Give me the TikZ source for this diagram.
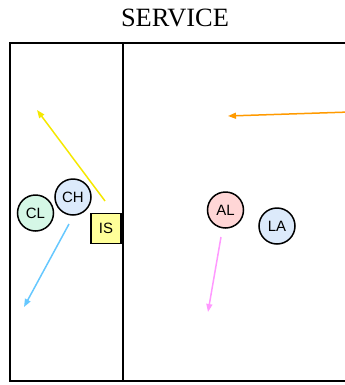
\documentclass[tikz,border=0pt]{standalone}
\usepackage{fontspec}
\setmainfont{Liberation Serif}
\newfontfamily\nodefont{Liberation Sans}
\usetikzlibrary{arrows.meta}
\definecolor{clfill}{HTML}{D5F7E6}
\definecolor{bluefill}{HTML}{DCEAFB}
\definecolor{alfill}{HTML}{FFD6D6}
\definecolor{isfill}{HTML}{FFFF99}
\definecolor{yarrow}{HTML}{F5E800}
\definecolor{oarrow}{HTML}{FF9A00}
\definecolor{barrow}{HTML}{66C8FF}
\definecolor{parrow}{HTML}{FF99FF}
\begin{document}
\begin{tikzpicture}[x=1bp,y=-1bp,
  player/.style={circle,draw=black,line width=1.5bp,minimum size=36bp,inner sep=0pt,font=\nodefont\fontsize{15}{15}\selectfont},
  setter/.style={rectangle,draw=black,line width=1.5bp,fill=isfill,minimum size=30bp,inner sep=0pt,font=\nodefont\fontsize{15}{15}\selectfont},
  move/.style={line width=1.5bp,-{Triangle[length=8bp,width=6bp]}}]
\useasboundingbox (0,0) rectangle (345,385);
\clip (0,0) rectangle (345,385);
% title
\node[font=\fontsize{26.5}{26.5}\selectfont] (title) at (175,18) {SERVICE};
% court
\draw[line width=2.5bp] (360,43) -- (10,43) -- (10,381) -- (360,381);
\draw[line width=1.8bp] (123,43) -- (123,381);
% players
\node[player,fill=clfill] (CL) at (35.5,213) {CL};
\node[player,fill=bluefill] (CH) at (73,197) {CH};
\node[setter] (IS) at (106,228.5) {IS};
\node[player,fill=alfill] (AL) at (225.5,210) {AL};
\node[player,fill=bluefill] (LA) at (277,226) {LA};
% movement coordinates
\coordinate (ys) at (105,201);
\coordinate (ye) at (37,110);
\coordinate (os) at (350,112);
\coordinate (oe) at (228,116);
\coordinate (bs) at (69,224);
\coordinate (be) at (24,307);
\coordinate (ps) at (221,237);
\coordinate (pe) at (208,312);
\draw[move,yarrow] (ys) -- (ye);
\draw[move,oarrow] (os) -- (oe);
\draw[move,barrow] (bs) -- (be);
\draw[move,parrow] (ps) -- (pe);
\end{tikzpicture}
\end{document}
